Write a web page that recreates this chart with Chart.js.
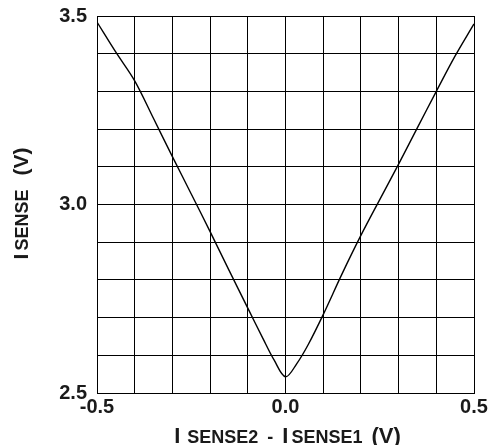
<!DOCTYPE html>
<html>
<head>
<meta charset="utf-8">
<script src="https://cdn.jsdelivr.net/npm/chart.js@4.4.1/dist/chart.umd.min.js"></script>
<style>
  html, body { margin: 0; padding: 0; background: #fff; }
  #wrap { width: 489px; height: 445px; position: relative; }
</style>
</head>
<body>
<div id="wrap"><canvas id="chart"></canvas></div>
<script>
// ISENSE2 - ISENSE1 (V) on x, ISENSE (V) on y
const diffVolts = [-0.5, -0.45, -0.4, -0.35, -0.3, -0.25, -0.2, -0.15, -0.1, -0.06, -0.03, 0.0,
                   0.03, 0.06, 0.1, 0.15, 0.2, 0.25, 0.3, 0.35, 0.4, 0.45, 0.5];
const senseVolts = [3.484, 3.404, 3.328, 3.228, 3.127, 3.028, 2.928, 2.826, 2.725, 2.645, 2.587, 2.543,
                    2.578, 2.628, 2.708, 2.816, 2.918, 3.013, 3.107, 3.204, 3.300, 3.394, 3.479];
const xTickLabels = ['-0.5', '0.0', '0.5'];
const yTickLabels = ['2.5', '3.0', '3.5'];

const FONT = '"Liberation Sans", Arial, Helvetica, sans-serif';
const INK = '#1a1a1a';

// draw a label made of pieces with different sizes, centred on (0,0)
function drawPieces(ctx, pieces) {
  let total = 0;
  pieces.forEach(p => {
    ctx.font = 'bold ' + p.size + 'px ' + FONT;
    p.w = ctx.measureText(p.text).width;
    total += p.w + (p.gap || 0);
  });
  let x = -total / 2;
  pieces.forEach(p => {
    ctx.font = 'bold ' + p.size + 'px ' + FONT;
    ctx.fillText(p.text, x, 0);
    x += p.w + (p.gap || 0);
  });
}

const axisTitles = {
  id: 'axisTitles',
  afterDraw(chart) {
    const ctx = chart.ctx;
    const area = chart.chartArea;
    ctx.save();
    ctx.fillStyle = INK;
    ctx.textAlign = 'left';
    ctx.textBaseline = 'alphabetic';

    // x title
    ctx.save();
    ctx.translate((area.left + area.right) / 2 + 2, 443);
    drawPieces(ctx, [
      { text: 'I', size: 22, gap: 7 },
      { text: 'SENSE2', size: 18, gap: 9 },
      { text: '-', size: 18, gap: 9 },
      { text: 'I', size: 22, gap: 3 },
      { text: 'SENSE1', size: 18, gap: 9 },
      { text: '(V)', size: 22 }
    ]);
    ctx.restore();

    // y title
    ctx.save();
    ctx.translate(28, (area.top + area.bottom) / 2 - 1);
    ctx.rotate(-Math.PI / 2);
    drawPieces(ctx, [
      { text: 'I', size: 21, gap: 3 },
      { text: 'SENSE', size: 18, gap: 14 },
      { text: '(V)', size: 21 }
    ]);
    ctx.restore();

    ctx.restore();
  }
};

function pickLabel(list) {
  return function(value) {
    const s = (Math.round(value * 10) / 10).toFixed(1);
    return list.includes(s) ? s : '';
  };
}

const ctx = document.getElementById('chart').getContext('2d');
new Chart(ctx, {
  type: 'line',
  data: {
    datasets: [{
      data: diffVolts.map((v, i) => ({ x: v, y: senseVolts[i] })),
      borderColor: '#000',
      borderWidth: 1.4,
      pointRadius: 0,
      fill: false,
      tension: 0.35
    }]
  },
  options: {
    responsive: true,
    maintainAspectRatio: false,
    animation: false,
    layout: { padding: { left: 0, right: 15, top: 16, bottom: 0 } },
    plugins: {
      legend: { display: false },
      tooltip: { enabled: false }
    },
    scales: {
      x: {
        type: 'linear',
        min: -0.5,
        max: 0.5,
        afterFit: scale => {
          scale.height = 52;
          scale.paddingLeft = 0;
          scale.paddingRight = 10;
        },
        ticks: {
          stepSize: 0.1,
          autoSkip: false,
          maxRotation: 0,
          padding: 2,
          color: INK,
          font: { family: FONT, size: 20, weight: 'bold' },
          callback: pickLabel(xTickLabels)
        },
        grid: { color: '#000', lineWidth: 1, drawTicks: false },
        border: { color: '#000', width: 1 }
      },
      y: {
        min: 2.5,
        max: 3.5,
        afterFit: scale => {
          scale.width = 97;
          // keep the label overhang from pushing the plot down
          scale.paddingTop = 10;
          scale.paddingBottom = 10;
        },
        ticks: {
          stepSize: 0.1,
          autoSkip: false,
          padding: 10,
          color: INK,
          font: { family: FONT, size: 20, weight: 'bold' },
          callback: pickLabel(yTickLabels)
        },
        grid: { color: '#000', lineWidth: 1, drawTicks: false },
        border: { color: '#000', width: 1 }
      }
    }
  },
  plugins: [axisTitles]
});
</script>
</body>
</html>
